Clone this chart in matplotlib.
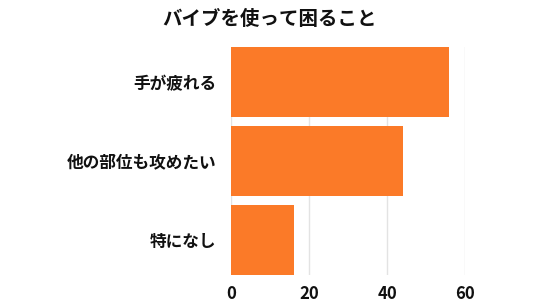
import matplotlib
matplotlib.use('Agg')
import matplotlib.pyplot as plt

# data
categories = ['手が疲れる', '他の部位も攻めたい', '特になし']
values = [56, 44, 16]
xticks = [0, 20, 40, 60]
title = 'バイブを使って困ること'

plt.rcParams['font.family'] = ['Noto Sans CJK JP', 'DejaVu Sans']

fig = plt.figure(figsize=(5.4, 3.04), dpi=100)
ax = fig.add_axes([0.4287, 0.0954, 0.4324, 0.7516])

pos = list(range(len(categories)))
ax.barh(pos, values, height=0.89, color='#FB7A28', zorder=3)

ax.set_xlim(0, 60)
ax.set_ylim(len(categories) - 1 + 0.445, -0.445)
ax.set_xticks(xticks)
ax.set_yticks(pos)
ax.set_yticklabels(categories, fontsize=12, fontweight='bold', color='#111111')
for lbl in ax.get_xticklabels():
    lbl.set_fontsize(12)
    lbl.set_fontweight('bold')
    lbl.set_color('#111111')
ax.tick_params(axis='y', length=0, pad=11)
ax.tick_params(axis='x', length=0, pad=7)

ax.grid(axis='x', color='#E3E3E3', linewidth=1, zorder=0)
for s in ax.spines.values():
    s.set_visible(False)

fig.text(0.5, 0.935, title, ha='center', va='center', fontsize=14, fontweight='bold', color='#111111')

fig.savefig('out.png', dpi=100, facecolor='white')
